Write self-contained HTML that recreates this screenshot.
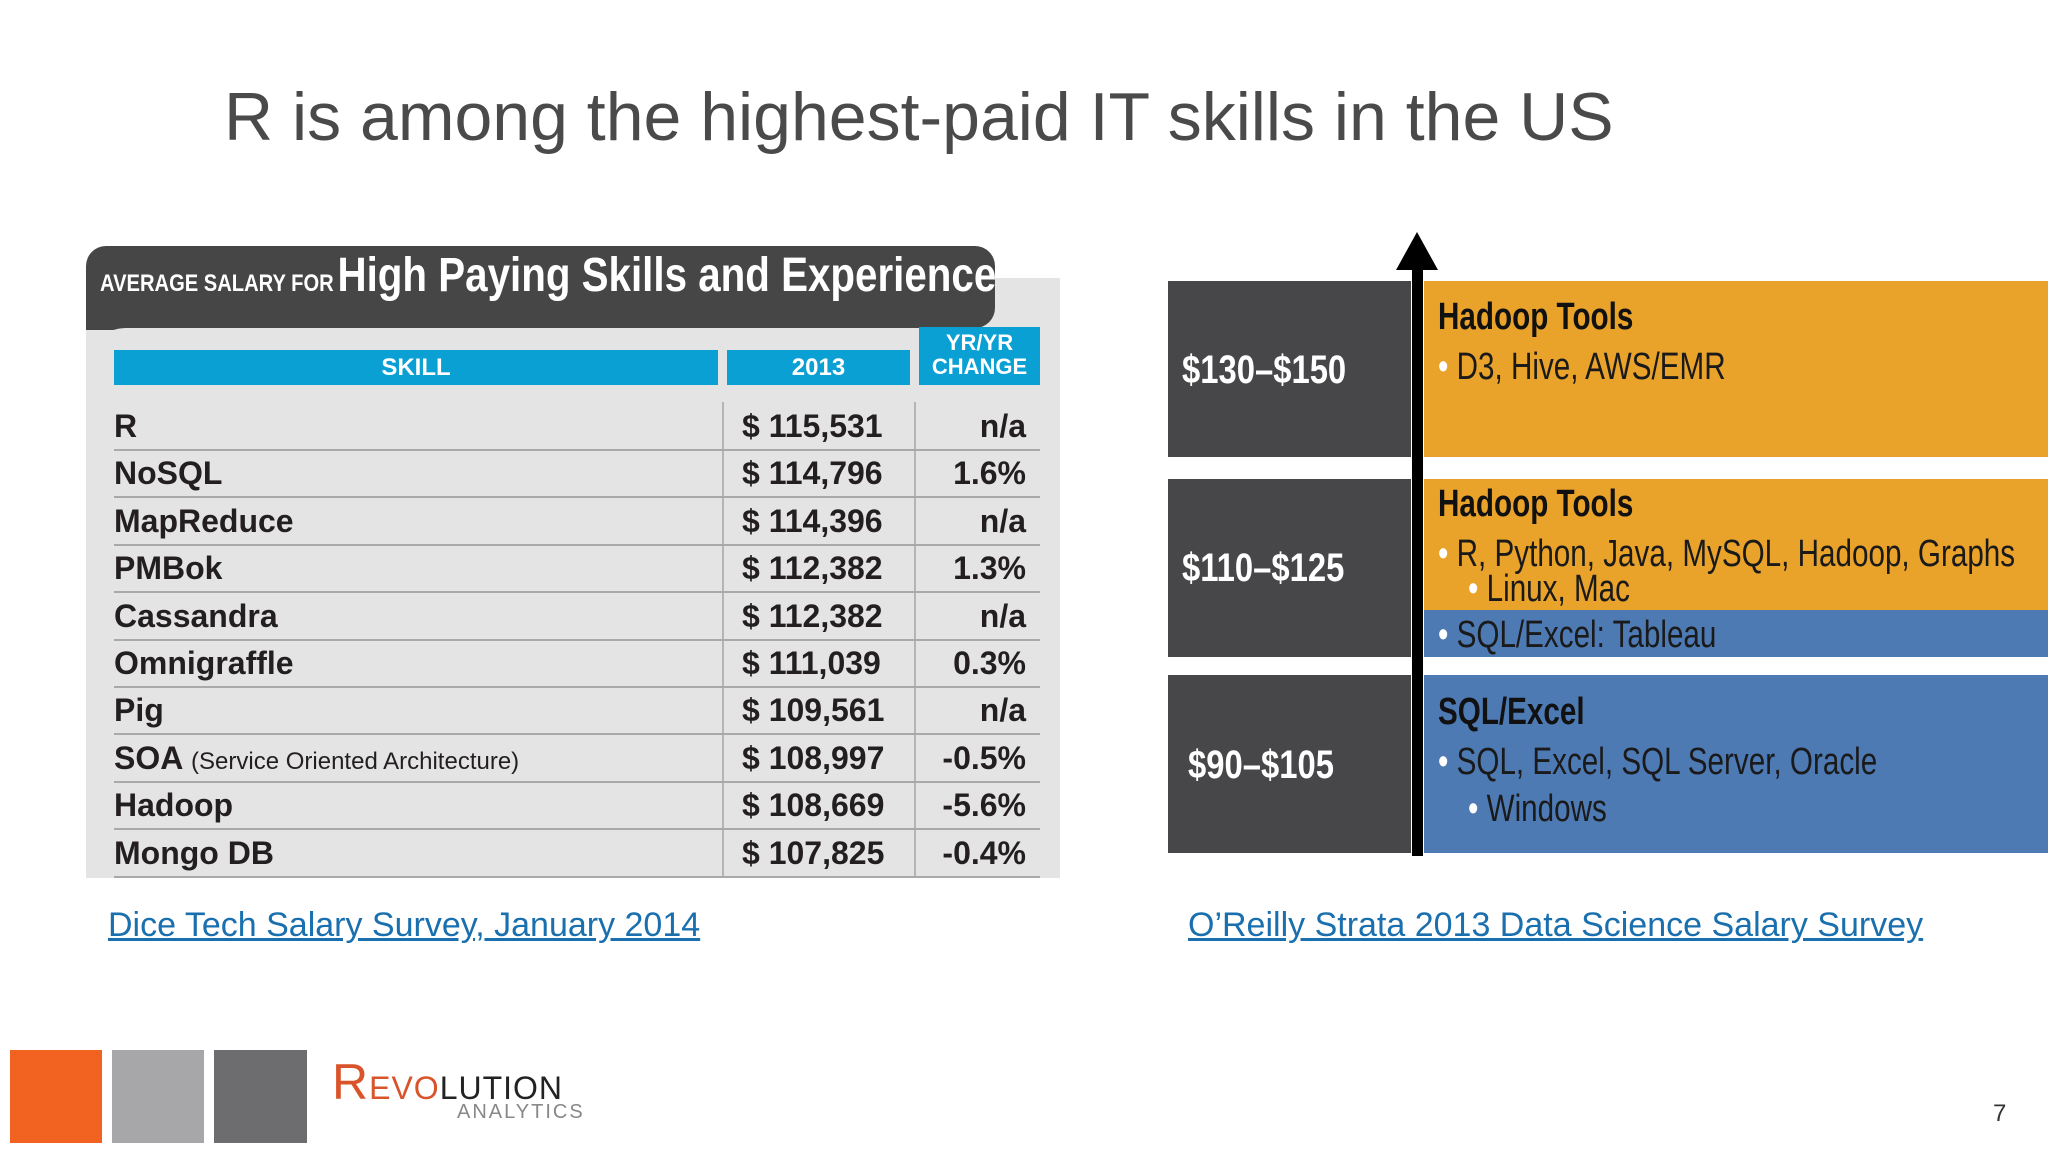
<!DOCTYPE html>
<html><head><meta charset="utf-8"><style>
body{margin:0;width:2048px;height:1152px;background:#fff;position:relative;overflow:hidden;font-family:"Liberation Sans",sans-serif}
.abs{position:absolute}
.cn{font-family:"Liberation Sans Narrow","Liberation Sans",sans-serif;font-weight:bold}
.nar{transform:scaleX(0.82);transform-origin:0 0;white-space:nowrap}
.row{position:absolute;left:114px;width:926px;height:47px;border-bottom:2px solid #a9a9a9;color:#231f20;font-size:32px}
.row span{position:absolute;top:6px;white-space:nowrap}
a{color:#1a6fae}
.bt{font-size:38px;color:#1a1a1a;white-space:nowrap;transform:scaleX(0.78);transform-origin:0 0}
</style></head><body>
<div class="abs" style="left:224px;top:78px;font-size:68px;color:#4a4a4a;white-space:nowrap">R is among the highest-paid IT skills in the US</div>

<div>
<div class="abs" style="left:86px;top:278px;width:974px;height:600px;background:#e4e4e4"></div>
<div class="abs" style="left:86px;top:246px;width:909px;height:82px;background:#464646;border-radius:20px 20px 20px 0"></div>
<div class="abs" style="left:86px;top:300px;width:40px;height:30px;background:#464646"></div>
<div class="abs" style="left:86px;top:328px;width:60px;height:40px;background:#e4e4e4;border-top-left-radius:40px"></div>
<div class="abs" style="left:86px;top:326px;width:4px;height:4px;background:#464646"></div>
<div class="abs cn" style="left:100px;top:248px;color:#fff;white-space:nowrap;transform:scaleX(0.84);transform-origin:0 0"><span style="font-size:24px">AVERAGE SALARY FOR</span> <span style="font-size:48px">High Paying Skills and Experience</span></div>
<div class="abs cn" style="left:114px;top:350px;width:604px;height:35px;background:#0aa0d4;color:#fff;font-size:24px;text-align:center;line-height:36px">SKILL</div>
<div class="abs cn" style="left:727px;top:350px;width:183px;height:35px;background:#0aa0d4;color:#fff;font-size:24px;text-align:center;line-height:36px">2013</div>
<div class="abs cn" style="left:919px;top:327px;width:121px;height:58px;background:#0aa0d4;color:#fff;font-size:22px;text-align:center;line-height:24px;padding-top:4px;box-sizing:border-box">YR/YR<br>CHANGE</div>
<div class="abs" style="left:722px;top:402px;width:2px;height:476px;background:#b5b5b5"></div>
<div class="abs" style="left:914px;top:402px;width:2px;height:476px;background:#b5b5b5"></div>
<div id="rows"></div>
</div>

<svg class="abs" style="left:0;top:0" width="2048" height="1152">
<rect x="1168" y="281" width="243" height="176" fill="#474649"/>
<rect x="1168" y="479" width="243" height="178" fill="#474649"/>
<rect x="1168" y="675" width="243" height="178" fill="#474649"/>
<rect x="1424" y="281" width="624" height="176" fill="#e9a22a"/>
<rect x="1424" y="479" width="624" height="132" fill="#e9a22a"/>
<rect x="1424" y="610" width="624" height="47" fill="#4e7ab4"/>
<rect x="1424" y="675" width="624" height="178" fill="#4e7ab4"/>
<rect x="1412" y="266" width="11" height="590" fill="#000"/>
<polygon points="1417,232 1396,270 1438,270" fill="#000"/>
</svg>
<div class="abs cn nar" style="left:1182px;top:348px;color:#fff;font-size:40px">$130–$150</div>
<div class="abs cn nar" style="left:1182px;top:546px;color:#fff;font-size:40px">$110–$125</div>
<div class="abs cn nar" style="left:1188px;top:743px;color:#fff;font-size:40px">$90–$105</div>
<div>
<div class="abs cn bt" style="left:1438px;top:296px;color:#111">Hadoop Tools</div>
<div class="abs bt" style="left:1438px;top:346px"><span style="color:#fff">•</span> D3, Hive, AWS/EMR</div>
<div class="abs cn bt" style="left:1438px;top:483px;color:#111">Hadoop Tools</div>
<div class="abs bt" style="left:1438px;top:533px"><span style="color:#fff">•</span> R, Python, Java, MySQL, Hadoop, Graphs</div>
<div class="abs bt" style="left:1468px;top:568px"><span style="color:#fff">•</span> Linux, Mac</div>
<div class="abs bt" style="left:1438px;top:614px"><span style="color:#fff">•</span> SQL/Excel: Tableau</div>
<div class="abs cn bt" style="left:1438px;top:691px;color:#111">SQL/Excel</div>
<div class="abs bt" style="left:1438px;top:741px"><span style="color:#fff">•</span> SQL, Excel, SQL Server, Oracle</div>
<div class="abs bt" style="left:1468px;top:788px"><span style="color:#fff">•</span> Windows</div>
</div>

<a class="abs" href="#" style="left:108px;top:906px;font-size:34px">Dice Tech Salary Survey, January 2014</a>
<a class="abs" href="#" style="left:1188px;top:906px;font-size:34px">O’Reilly Strata 2013 Data Science Salary Survey</a>

<div class="abs" style="left:10px;top:1050px;width:92px;height:93px;background:#f26322"></div>
<div class="abs" style="left:112px;top:1050px;width:92px;height:93px;background:#a7a7a9"></div>
<div class="abs" style="left:214px;top:1050px;width:93px;height:93px;background:#6d6d6f"></div>
<div class="abs" style="left:332px;top:1058px;font-size:32px;letter-spacing:1px;white-space:nowrap;line-height:48px"><span style="color:#d9532b;font-size:50px">R</span><span style="color:#d9532b">EVO</span><span style="color:#222">LUTION</span></div>
<div class="abs" style="left:457px;top:1101px;font-size:20px;letter-spacing:2px;color:#888">ANALYTICS</div>
<div class="abs" style="left:1993px;top:1100px;font-size:24px;color:#333">7</div>

<script>
const skills=["R","NoSQL","MapReduce","PMBok","Cassandra","Omnigraffle","Pig","SOA","Hadoop","Mongo DB"];
const salaries=["$ 115,531","$ 114,796","$ 114,396","$ 112,382","$ 112,382","$ 111,039","$ 109,561","$ 108,997","$ 108,669","$ 107,825"];
const changes=["n/a","1.6%","n/a","1.3%","n/a","0.3%","n/a","-0.5%","-5.6%","-0.4%"];
const rows=document.getElementById('rows');
skills.forEach((s,i)=>{
  const r=document.createElement('div');
  r.className='row cn';
  
  
  r.style.top=(402+i*47.4)+'px';
  let extra=s==="SOA"?' <span style="position:static;font-size:24px;font-weight:normal">(Service Oriented Architecture)</span>':'';
  r.innerHTML='<span style="left:0">'+s+extra+'</span><span style="left:628px">'+salaries[i]+'</span><span style="right:14px">'+changes[i]+'</span>';
  rows.appendChild(r);
});
</script>
</body></html>
